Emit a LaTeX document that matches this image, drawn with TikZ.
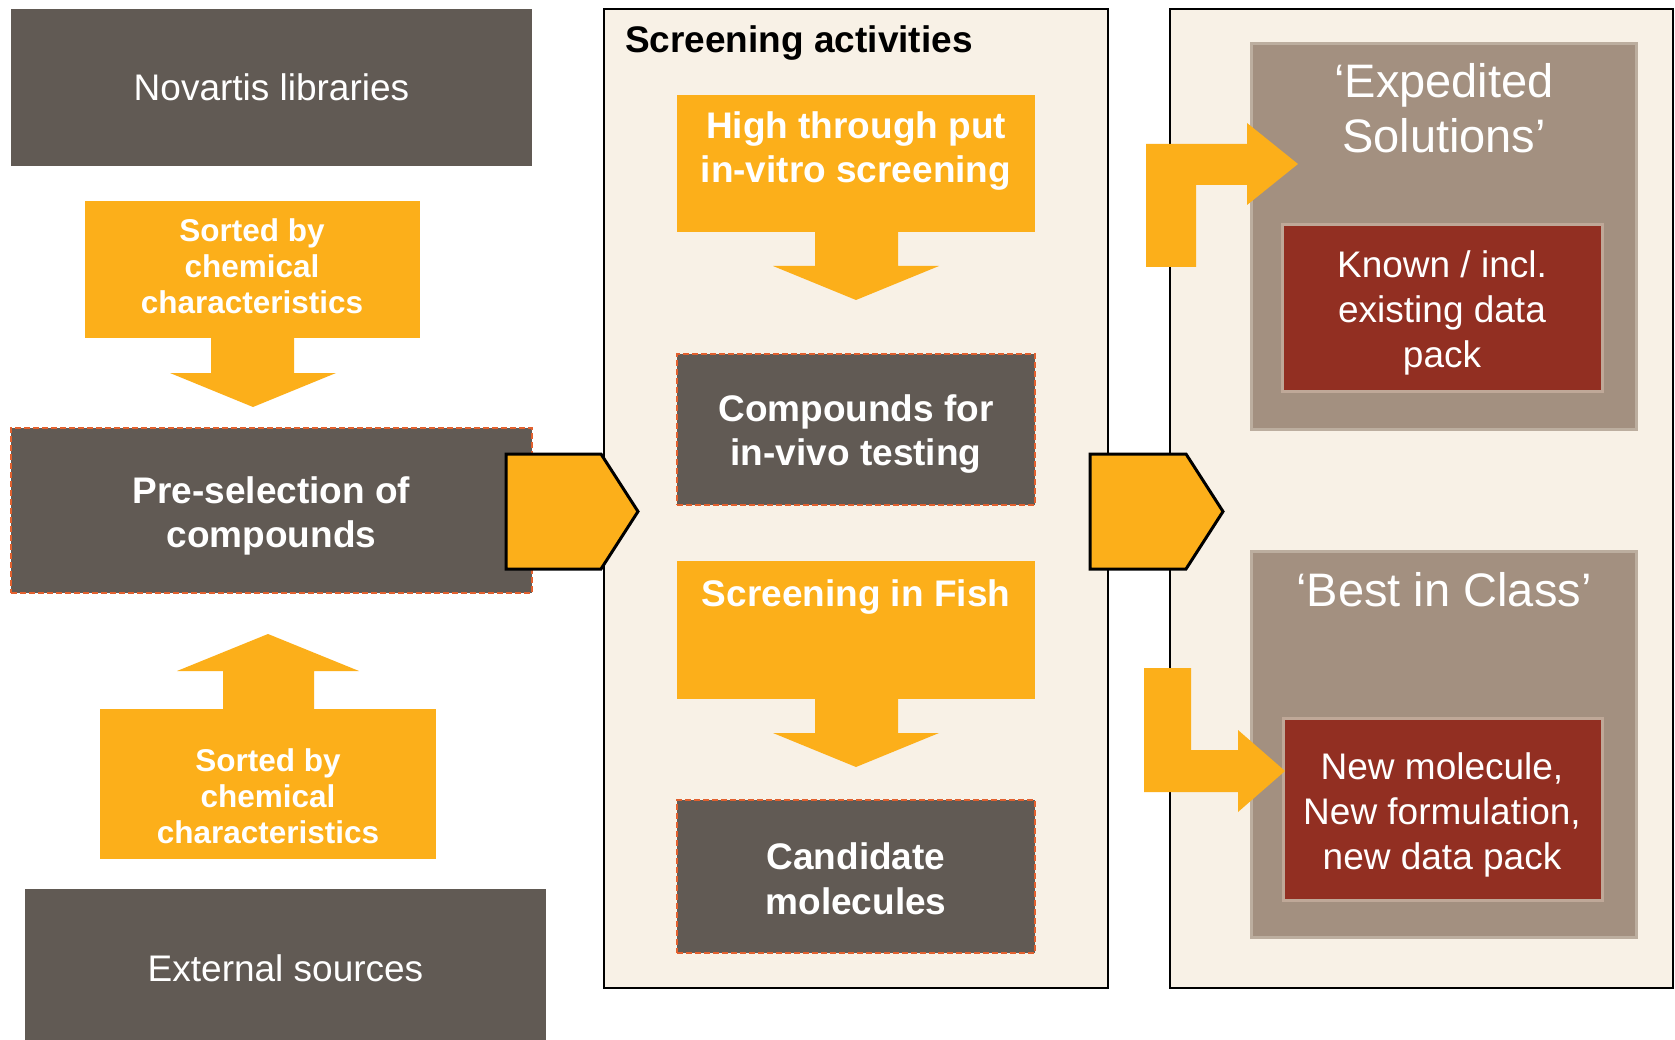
\documentclass[tikz,border=0pt]{standalone}
\usepackage{fontspec}
\setmainfont{Liberation Sans}
\definecolor{dgray}{HTML}{615A54}
\definecolor{orng}{HTML}{FCAF1A}
\definecolor{cream}{HTML}{F8F1E6}
\definecolor{taupe}{HTML}{A39080}
\definecolor{taupeline}{HTML}{BCAE9F}
\definecolor{dred}{HTML}{922F22}
\definecolor{redline}{HTML}{BFA898}
\definecolor{dashline}{HTML}{E2602E}
\begin{document}
\begin{tikzpicture}[x=1pt,y=-1pt,
  box/.style={inner sep=0pt, outer sep=0pt, align=center, text=white, anchor=north west},
  graybox/.style={box, fill=dgray},
  dashbox/.style={box, fill=dgray, draw=dashline, dash pattern=on 6pt off 3pt, line width=1.3pt},
  orangebox/.style={box, fill=orng},
  panelbox/.style={box, fill=cream, draw=black, line width=2.5pt},
  taupebox/.style={box, fill=taupe, draw=taupeline, line width=3pt},
  redbox/.style={box, fill=dred, draw=redline, line width=3pt},
  lbl/.style={inner sep=0pt, outer sep=0pt, align=center, text=white},
  regtext/.style={font=\fontsize{37}{45}\selectfont},
  boldtext/.style={font=\bfseries\fontsize{37}{43.5}\selectfont},
  sorttext/.style={font=\bfseries\fontsize{31.5}{36}\selectfont},
  bigtext/.style={font=\fontsize{47}{55}\selectfont},
  blockarrow/.style={fill=orng},
  pentarrow/.style={fill=orng, draw=black, line width=3pt, line join=miter}
]
\useasboundingbox (0,0) rectangle (1675,1040);
\fill[white] (0,0) rectangle (1675,1040);

% ---------- left column ----------
\node[graybox, minimum width=521pt, minimum height=157pt, regtext] (nov) at (11,9) {Novartis libraries};

\node[orangebox, minimum width=335pt, minimum height=137pt] (sort1) at (85,201) {};
\node[lbl, sorttext] (sort1t) at (252,266.5) {Sorted by\\chemical\\characteristics};
\fill[blockarrow] (211,337) -- (294,337) -- (294,373) -- (336,373) -- (253,407) -- (170,373) -- (211,373) -- cycle;

\node[dashbox, minimum width=521pt, minimum height=165pt] (presel) at (11,428) {};
\node[lbl, boldtext] (preselt) at (271.5,516) {Pre-selection of\\compounds};

\fill[blockarrow] (223,710) -- (223,671) -- (177,671) -- (268,634) -- (359,671) -- (314,671) -- (314,710) -- cycle;
\node[orangebox, minimum width=336pt, minimum height=150pt] (sort2) at (100,709) {};
\node[lbl, sorttext] (sort2t) at (268,796) {Sorted by\\chemical\\characteristics};

\node[graybox, minimum width=521pt, minimum height=160pt] (ext) at (25,889) {};
\node[lbl, regtext] (extt) at (285.5,968) {External sources};

% ---------- middle panel ----------
\node[panelbox, minimum width=504pt, minimum height=979pt] (screen) at (604,9) {};
\node[inner sep=0pt, anchor=west, font=\bfseries\fontsize{37}{40}\selectfont] (screent) at (625,43) {Screening activities};

\node[orangebox, minimum width=358pt, minimum height=137pt] (htp) at (677,95) {};
\node[lbl, boldtext] (htpt) at (856,151) {High through put\\in-vitro screening};
\fill[blockarrow] (815,231) -- (898,231) -- (898,266) -- (939,266) -- (856,300) -- (773,266) -- (815,266) -- cycle;

\node[dashbox, minimum width=358pt, minimum height=151pt] (comp) at (677,354) {};
\node[lbl, boldtext] (compt) at (856,434) {Compounds for\\in-vivo testing};

\node[orangebox, minimum width=358pt, minimum height=138pt] (fish) at (677,561) {};
\node[lbl, boldtext] (fisht) at (856,597) {Screening in Fish};
\fill[blockarrow] (815,698) -- (898,698) -- (898,733) -- (939,733) -- (856,767) -- (773,733) -- (815,733) -- cycle;

\node[dashbox, minimum width=358pt, minimum height=153pt] (cand) at (677,800) {};
\node[lbl, font=\bfseries\fontsize{37}{45}\selectfont] (candt) at (856,879) {Candidate\\molecules};

% ---------- right panel ----------
\node[panelbox, minimum width=503pt, minimum height=979pt] (result) at (1170,9) {};

\node[taupebox, minimum width=385pt, minimum height=385pt] (exped) at (1251,44) {};
\node[lbl, bigtext] (expedt) at (1444,108) {‘Expedited\\Solutions’};
\node[redbox, minimum width=320pt, minimum height=166pt] (known) at (1282,225) {};
\node[lbl, regtext] (knownt) at (1442,313) {Known / incl.\\existing data\\pack};

\node[taupebox, minimum width=385pt, minimum height=386pt] (best) at (1251,551) {};
\node[lbl, bigtext] (bestt) at (1444,590) {‘Best in Class’};
\node[redbox, minimum width=319pt, minimum height=182pt] (newm) at (1283,718) {};
\node[lbl, regtext] (newmt) at (1442,815) {New molecule,\\New formulation,\\new data pack};

% ---------- transfer arrows ----------
\draw[pentarrow] (506,454) -- (601,454) -- (638,511.5) -- (601,569) -- (506,569) -- cycle;
\draw[pentarrow] (1090,454) -- (1186,454) -- (1223,511.5) -- (1186,569) -- (1090,569) -- cycle;

\fill[blockarrow] (1146,267) -- (1146,144) -- (1247,144) -- (1247,123) -- (1298,164) -- (1247,205) -- (1247,185) -- (1196,185) -- (1196,267) -- cycle;
\fill[blockarrow] (1144,668) -- (1191,668) -- (1191,750) -- (1238,750) -- (1238,730) -- (1285,771) -- (1238,812) -- (1238,792) -- (1144,792) -- cycle;
\end{tikzpicture}
\end{document}
